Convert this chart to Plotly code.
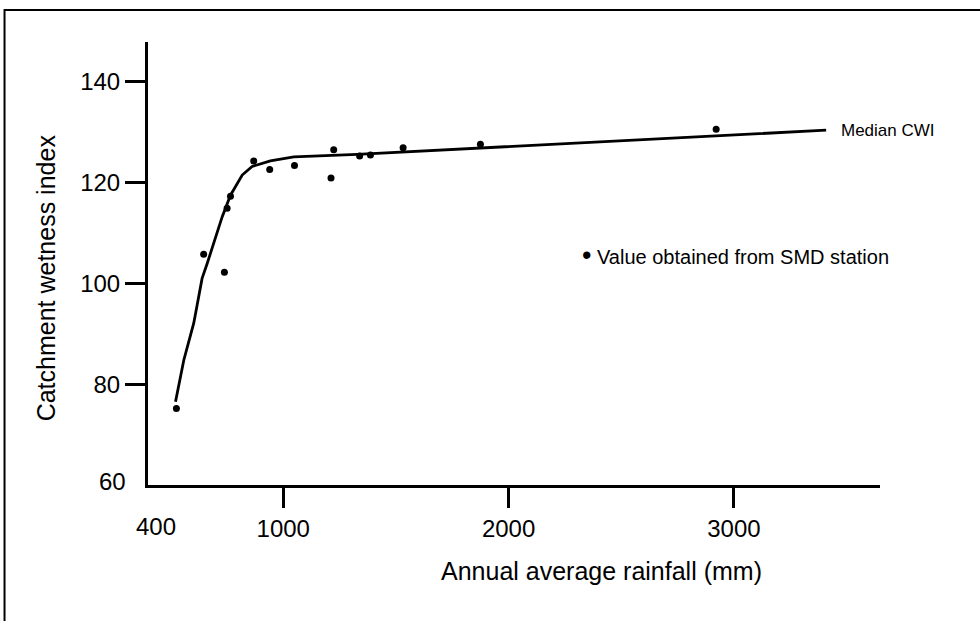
import plotly.graph_objects as go

# Observed stations (annual average rainfall mm, catchment wetness index)
station_rain = [526, 647, 739, 751, 766, 869, 940, 1050, 1212, 1224, 1339, 1387, 1532, 1875, 2921]
station_cwi = [75.2, 105.8, 102.2, 114.9, 117.3, 124.3, 122.6, 123.4, 120.9, 126.5, 125.3, 125.5, 126.9, 127.6, 130.6]

# Median CWI curve
median_rain = [522, 559, 603, 640, 663, 729, 766, 818, 862, 943, 1047, 1328, 3409]
median_cwi = [76.5, 84.8, 92.1, 101.0, 104.0, 113.2, 117.5, 121.5, 123.2, 124.3, 125.1, 125.6, 130.4]

x_tickvals = [1000, 2000, 3000]
y_tickvals = [80, 100, 120, 140]
x_range = [400, 3648]
y_range = [60, 147.9]

FONT = "Liberation Sans, Arial, sans-serif"

fig = go.Figure()
fig.add_trace(go.Scatter(
    x=median_rain, y=median_cwi, mode="lines",
    line=dict(color="black", width=2.8), showlegend=False, hoverinfo="skip"))
fig.add_trace(go.Scatter(
    x=station_rain, y=station_cwi, mode="markers",
    marker=dict(color="black", size=7), showlegend=False))

fig.update_layout(
    width=980, height=621,
    margin=dict(l=148, r=100, t=42, b=136),
    paper_bgcolor="white", plot_bgcolor="white",
    font=dict(family=FONT, color="black"),
    showlegend=False,
)
fig.update_xaxes(
    range=x_range, tickmode="array", tickvals=x_tickvals,
    ticks="outside", ticklen=20, tickwidth=3, tickcolor="black",
    showline=True, linewidth=3, linecolor="black",
    showgrid=False, zeroline=False,
    tickfont=dict(size=24, family=FONT, color="black"),
)
fig.update_yaxes(
    range=y_range, tickmode="array", tickvals=y_tickvals,
    ticks="outside", ticklen=20, tickwidth=3, tickcolor="black",
    showline=True, linewidth=3, linecolor="black",
    showgrid=False, zeroline=False,
    tickfont=dict(size=24, family=FONT, color="black"),
)

annotations = [
    # axis origin labels (no tick marks)
    dict(text=str(y_range[0]), x=-0.028, y=y_range[0], xref="paper", yref="y",
         xanchor="right", yanchor="middle", yshift=4, showarrow=False,
         font=dict(size=24)),
    dict(text=str(x_range[0]), x=x_range[0], y=-0.093, xref="x", yref="paper",
         xanchor="center", yanchor="middle", xshift=8, showarrow=False,
         font=dict(size=24)),
    # axis titles
    dict(text="Annual average rainfall (mm)", x=0.620, y=-0.194, xref="paper", yref="paper",
         xanchor="center", yanchor="middle", showarrow=False, font=dict(size=25)),
    dict(text="Catchment wetness index", x=-0.139, y=0.467, xref="paper", yref="paper",
         xanchor="center", yanchor="middle", textangle=-90, showarrow=False, font=dict(size=25)),
    # curve label
    dict(text="Median CWI", x=median_rain[-1], y=median_cwi[-1], xref="x", yref="y",
         xanchor="left", yanchor="middle", xshift=13, showarrow=False, font=dict(size=17)),
    # key
    dict(text="<span style='font-size:27px'>\u2022</span> Value obtained from SMD station",
         x=0.5905, y=0.519,
         xref="paper", yref="paper", xanchor="left", yanchor="middle",
         showarrow=False, font=dict(size=20)),
]
fig.update_layout(annotations=annotations)

# outer frame (only top and left edges fall inside the picture)
fig.add_shape(type="rect", xref="paper", yref="paper",
              x0=-0.196, x1=1.3, y0=-0.5, y1=1.072,
              line=dict(color="black", width=2), fillcolor="rgba(0,0,0,0)", layer="below")

fig.write_html("out.html")
